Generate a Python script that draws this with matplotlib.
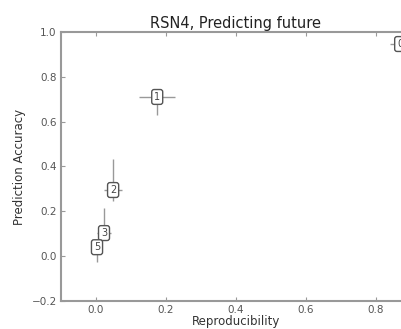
import matplotlib
matplotlib.use("Agg")
import matplotlib.pyplot as plt
import numpy as np

# component labels and their (reproducibility, accuracy) with error bars
labels = ['0', '1', '2', '3', '5']
repro = np.array([0.869, 0.175, 0.049, 0.023, 0.003])
repro_err = np.array([0.030, 0.052, 0.025, 0.020, 0.012])
acc = np.array([0.946, 0.710, 0.295, 0.103, 0.040])
acc_lo = np.array([0.010, 0.080, 0.050, 0.030, 0.066])
acc_hi = np.array([0.010, 0.010, 0.140, 0.112, 0.020])

fig = plt.figure(figsize=(4.01, 3.29), dpi=100)
ax = fig.add_axes([0.152, 0.085, 0.873, 0.818])

ax.errorbar(repro, acc, xerr=repro_err, yerr=[acc_lo, acc_hi],
            fmt='none', ecolor='#999999', elinewidth=1.0, capsize=0)
for x, y, lab in zip(repro, acc, labels):
    ax.text(x, y, lab, ha='center', va='center', fontsize=7, color='#444444',
            bbox=dict(boxstyle='round,pad=0.25', fc='white', ec='#555555', lw=1.0))

ax.set_xlim(-0.1, 0.9)
ax.set_ylim(-0.2, 1.0)
ax.set_xticks([0.0, 0.2, 0.4, 0.6, 0.8])
ax.set_yticks([-0.2, 0.0, 0.2, 0.4, 0.6, 0.8, 1.0])
ax.set_xticklabels(['0.0', '0.2', '0.4', '0.6', '0.8'])
ax.set_yticklabels(['\u22120.2', '0.0', '0.2', '0.4', '0.6', '0.8', '1.0'])

for s in ax.spines.values():
    s.set_color('#999999')
    s.set_linewidth(1.5)
ax.tick_params(colors='#999999', labelcolor='#555555', labelsize=7.5, length=3,
               top=True, right=True, direction='in', pad=3)

ax.set_title('RSN4, Predicting future', fontsize=10.5, color='#222222', pad=3)
ax.set_xlabel('Reproducibility', fontsize=8.5, color='#333333', labelpad=0)
ax.set_ylabel('Prediction Accuracy', fontsize=8.5, color='#333333', labelpad=4)

fig.savefig('out.png', dpi=100)
